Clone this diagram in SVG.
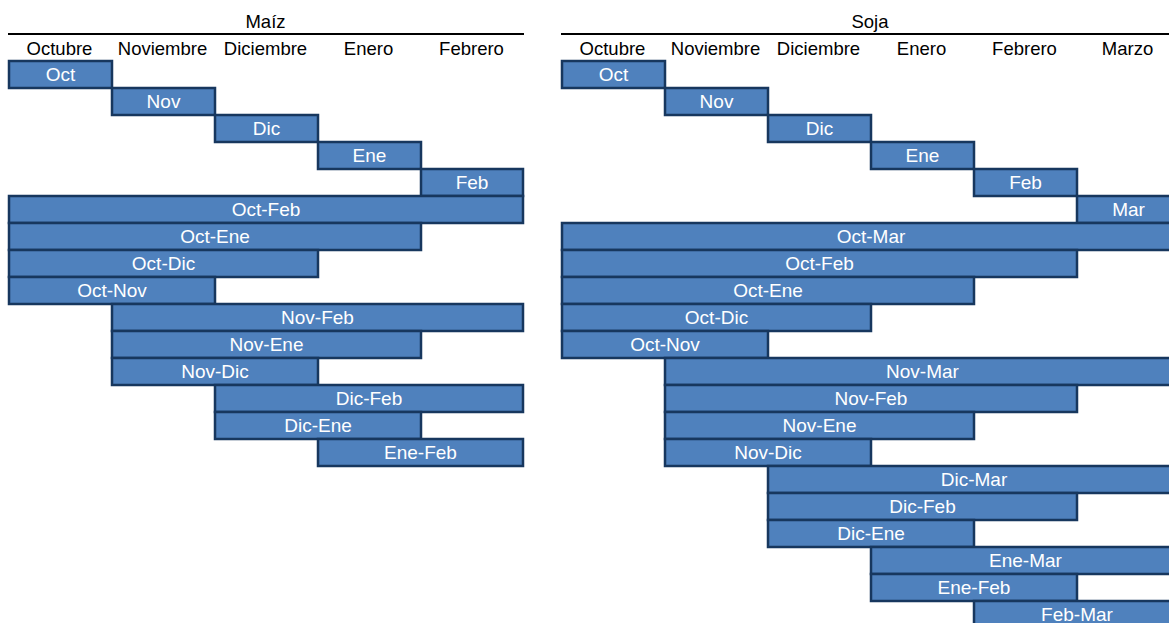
<svg xmlns="http://www.w3.org/2000/svg" width="1169" height="623" viewBox="0 0 1169 623">
<style>
.bg{fill:#ffffff}
.bar rect{fill:#4F81BD;stroke:#17375E;stroke-width:2.5}
.bar text{fill:#ffffff;font-family:"Liberation Sans",Arial,sans-serif;font-size:19px;text-anchor:middle}
.hdr{fill:#000000;font-family:"Liberation Sans",Arial,sans-serif;font-size:18.5px;text-anchor:middle}
.rule{stroke:#000000;stroke-width:2}
</style>
<rect class="bg" x="0" y="0" width="1169" height="623"/>
<g id="maiz-header">
<text class="hdr" x="265.5" y="28">Maíz</text>
<line class="rule" x1="8" y1="34" x2="524" y2="34"/>
<text class="hdr" x="59.5" y="55">Octubre</text>
<text class="hdr" x="162.5" y="55">Noviembre</text>
<text class="hdr" x="265.5" y="55">Diciembre</text>
<text class="hdr" x="368.5" y="55">Enero</text>
<text class="hdr" x="471.5" y="55">Febrero</text>
</g>
<g id="soja-header">
<text class="hdr" x="870" y="28">Soja</text>
<line class="rule" x1="561" y1="34" x2="1169" y2="34"/>
<text class="hdr" x="612.5" y="55">Octubre</text>
<text class="hdr" x="715.5" y="55">Noviembre</text>
<text class="hdr" x="818.5" y="55">Diciembre</text>
<text class="hdr" x="921.5" y="55">Enero</text>
<text class="hdr" x="1024.5" y="55">Febrero</text>
<text class="hdr" x="1127.5" y="55">Marzo</text>
</g>
<g id="maiz">
<g id="m-oct" class="bar"><rect x="9" y="61" width="103" height="27"/><text x="60.5" y="81">Oct</text></g>
<g id="m-nov" class="bar"><rect x="112" y="88" width="103" height="27"/><text x="163.5" y="108">Nov</text></g>
<g id="m-dic" class="bar"><rect x="215" y="115" width="103" height="27"/><text x="266.5" y="135">Dic</text></g>
<g id="m-ene" class="bar"><rect x="318" y="142" width="103" height="27"/><text x="369.5" y="162">Ene</text></g>
<g id="m-feb" class="bar"><rect x="421" y="169" width="102" height="27"/><text x="472" y="189">Feb</text></g>
<g id="m-oct-feb" class="bar"><rect x="9" y="196" width="514" height="27"/><text x="266" y="216">Oct-Feb</text></g>
<g id="m-oct-ene" class="bar"><rect x="9" y="223" width="412" height="27"/><text x="215" y="243">Oct-Ene</text></g>
<g id="m-oct-dic" class="bar"><rect x="9" y="250" width="309" height="27"/><text x="163.5" y="270">Oct-Dic</text></g>
<g id="m-oct-nov" class="bar"><rect x="9" y="277" width="206" height="27"/><text x="112" y="297">Oct-Nov</text></g>
<g id="m-nov-feb" class="bar"><rect x="112" y="304" width="411" height="27"/><text x="317.5" y="324">Nov-Feb</text></g>
<g id="m-nov-ene" class="bar"><rect x="112" y="331" width="309" height="27"/><text x="266.5" y="351">Nov-Ene</text></g>
<g id="m-nov-dic" class="bar"><rect x="112" y="358" width="206" height="27"/><text x="215" y="378">Nov-Dic</text></g>
<g id="m-dic-feb" class="bar"><rect x="215" y="385" width="308" height="27"/><text x="369" y="405">Dic-Feb</text></g>
<g id="m-dic-ene" class="bar"><rect x="215" y="412" width="206" height="27"/><text x="318" y="432">Dic-Ene</text></g>
<g id="m-ene-feb" class="bar"><rect x="318" y="439" width="205" height="27"/><text x="420.5" y="459">Ene-Feb</text></g>
</g>
<g id="soja">
<g id="s-oct" class="bar"><rect x="562" y="61" width="103" height="27"/><text x="613.5" y="81">Oct</text></g>
<g id="s-nov" class="bar"><rect x="665" y="88" width="103" height="27"/><text x="716.5" y="108">Nov</text></g>
<g id="s-dic" class="bar"><rect x="768" y="115" width="103" height="27"/><text x="819.5" y="135">Dic</text></g>
<g id="s-ene" class="bar"><rect x="871" y="142" width="103" height="27"/><text x="922.5" y="162">Ene</text></g>
<g id="s-feb" class="bar"><rect x="974" y="169" width="103" height="27"/><text x="1025.5" y="189">Feb</text></g>
<g id="s-mar" class="bar"><rect x="1077" y="196" width="103" height="27"/><text x="1128.5" y="216">Mar</text></g>
<g id="s-oct-mar" class="bar"><rect x="562" y="223" width="618" height="27"/><text x="871" y="243">Oct-Mar</text></g>
<g id="s-oct-feb" class="bar"><rect x="562" y="250" width="515" height="27"/><text x="819.5" y="270">Oct-Feb</text></g>
<g id="s-oct-ene" class="bar"><rect x="562" y="277" width="412" height="27"/><text x="768" y="297">Oct-Ene</text></g>
<g id="s-oct-dic" class="bar"><rect x="562" y="304" width="309" height="27"/><text x="716.5" y="324">Oct-Dic</text></g>
<g id="s-oct-nov" class="bar"><rect x="562" y="331" width="206" height="27"/><text x="665" y="351">Oct-Nov</text></g>
<g id="s-nov-mar" class="bar"><rect x="665" y="358" width="515" height="27"/><text x="922.5" y="378">Nov-Mar</text></g>
<g id="s-nov-feb" class="bar"><rect x="665" y="385" width="412" height="27"/><text x="871" y="405">Nov-Feb</text></g>
<g id="s-nov-ene" class="bar"><rect x="665" y="412" width="309" height="27"/><text x="819.5" y="432">Nov-Ene</text></g>
<g id="s-nov-dic" class="bar"><rect x="665" y="439" width="206" height="27"/><text x="768" y="459">Nov-Dic</text></g>
<g id="s-dic-mar" class="bar"><rect x="768" y="466" width="412" height="27"/><text x="974" y="486">Dic-Mar</text></g>
<g id="s-dic-feb" class="bar"><rect x="768" y="493" width="309" height="27"/><text x="922.5" y="513">Dic-Feb</text></g>
<g id="s-dic-ene" class="bar"><rect x="768" y="520" width="206" height="27"/><text x="871" y="540">Dic-Ene</text></g>
<g id="s-ene-mar" class="bar"><rect x="871" y="547" width="309" height="27"/><text x="1025.5" y="567">Ene-Mar</text></g>
<g id="s-ene-feb" class="bar"><rect x="871" y="574" width="206" height="27"/><text x="974" y="594">Ene-Feb</text></g>
<g id="s-feb-mar" class="bar"><rect x="974" y="601" width="206" height="27"/><text x="1077" y="621">Feb-Mar</text></g>
</g>
</svg>
